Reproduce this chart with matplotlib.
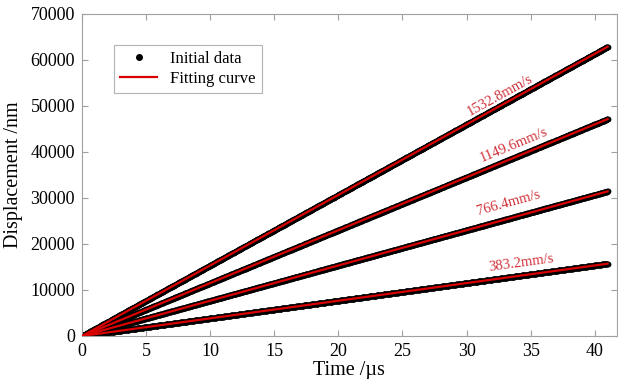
import numpy as np
import matplotlib
matplotlib.use("Agg")
import matplotlib.pyplot as plt

plt.rcParams['font.family'] = ['Liberation Serif', 'DejaVu Serif']

# velocidades ajustadas (mm/s = nm/us) y etiquetas
velocidades = [1532.8, 1149.6, 766.4, 383.2]
etiquetas = ["1532.8mm/s", "1149.6mm/s", "766.4mm/s", "383.2mm/s"]
# posicion de las etiquetas (tiempo, desplazamiento)
pos_etiquetas = [(32.6, 52300), (33.7, 41400), (33.3, 28800), (34.3, 15900)]
t_final = 41.0
ticks_x = [0, 5, 10, 15, 20, 25, 30, 35, 40]
ticks_y = [0, 10000, 20000, 30000, 40000, 50000, 60000, 70000]

fig = plt.figure(figsize=(6.18, 3.79), dpi=100)
ax = fig.add_axes([0.1327, 0.1135, 0.865, 0.85])

tiempo = np.linspace(0, t_final, 1200)
for i, v in enumerate(velocidades):
    desp = v * tiempo
    ax.plot(tiempo, desp, 'o', color='black', markersize=4.2, markeredgewidth=0,
            label='Initial data' if i == 0 else None, zorder=2)
    ax.plot(tiempo, desp, '-', color='#d80000', linewidth=1.6,
            label='Fitting curve' if i == 0 else None, zorder=3)

ax.set_xlim(0, 41.7)
ax.set_ylim(0, 70000)
ax.set_xticks(ticks_x)
ax.set_yticks(ticks_y)

fig.canvas.draw()
for v, txt, (tx, ty) in zip(velocidades, etiquetas, pos_etiquetas):
    p1 = ax.transData.transform((0, 0))
    p2 = ax.transData.transform((10, 10 * v))
    ang = np.degrees(np.arctan2(p2[1] - p1[1], p2[0] - p1[0]))
    ax.text(tx, ty, txt, color='#d03038', fontsize=10.5, rotation=ang,
            rotation_mode='anchor', ha='center', va='center')

for s in ax.spines.values():
    s.set_color('#a0a0a0')
    s.set_linewidth(0.8)
ax.tick_params(direction='in', top=True, right=True, color='#a0a0a0',
               labelsize=13, length=4, pad=5)
ax.set_xlabel('Time /\u00b5s', fontsize=14.5, labelpad=1)
ax.set_ylabel('Displacement /nm', fontsize=14.5, labelpad=5)

leg = ax.legend(loc='upper left', bbox_to_anchor=(0.045, 0.93), fontsize=12,
                frameon=True, fancybox=False, borderpad=0.35, handlelength=2.2,
                labelspacing=0.25, markerscale=1.2)
leg.get_frame().set_edgecolor('#a0a0a0')
leg.get_frame().set_linewidth(0.8)

plt.savefig('out.png', dpi=100)
